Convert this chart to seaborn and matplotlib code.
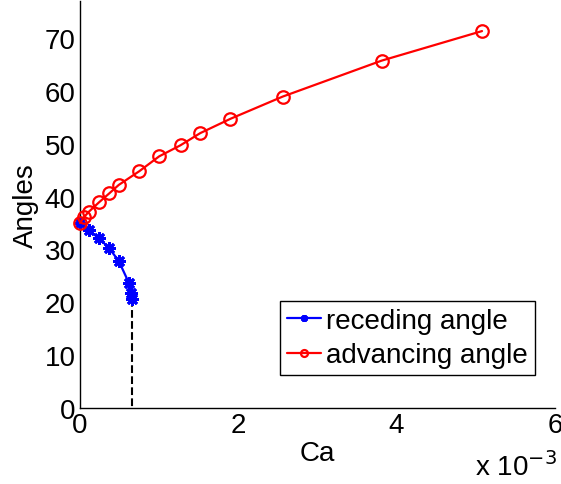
import matplotlib
matplotlib.use("Agg")
import matplotlib.pyplot as plt
import seaborn as sns
import pandas as pd
from matplotlib.ticker import FuncFormatter

# data (Ca in absolute units)
rec_ca = [0.0, 0.11e-3, 0.24e-3, 0.37e-3, 0.49e-3, 0.62e-3, 0.645e-3, 0.66e-3]
rec_angle = [35.0, 33.6, 32.1, 30.2, 27.8, 23.6, 21.7, 20.6]

adv_ca = [0.0, 0.05e-3, 0.11e-3, 0.24e-3, 0.37e-3, 0.49e-3, 0.75e-3, 1.0e-3,
          1.27e-3, 1.52e-3, 1.9e-3, 2.56e-3, 3.81e-3, 5.08e-3]
adv_angle = [35.0, 36.1, 37.1, 38.9, 40.6, 42.2, 44.8, 47.6,
             49.7, 52.0, 54.7, 58.9, 65.7, 71.3]

x_ticks = [0, 2e-3, 4e-3, 6e-3]
y_ticks = [0, 10, 20, 30, 40, 50, 60, 70]

FS = 20

sns.set_style("white")
plt.rcParams['font.family'] = ['Liberation Sans', 'DejaVu Sans']
plt.rcParams.update({
    "font.size": FS,
    "text.color": "black",
    "axes.labelcolor": "black",
    "xtick.direction": "in",
    "ytick.direction": "in",
    "xtick.major.size": 5,
    "ytick.major.size": 5,
})

rec = pd.DataFrame({"Ca": rec_ca, "Angle": rec_angle})
adv = pd.DataFrame({"Ca": adv_ca, "Angle": adv_angle})

fig = plt.figure(figsize=(5.61, 4.85), dpi=100)
ax = fig.add_axes([0.1426, 0.1567, 0.8464, 0.8393])

sns.lineplot(data=rec, x="Ca", y="Angle", sort=False, color="blue",
             marker=(8, 2, 0), markersize=9, markeredgewidth=2,
             markeredgecolor="blue", linewidth=1.6, label="receding angle",
             clip_on=False, zorder=3, ax=ax)
sns.lineplot(data=adv, x="Ca", y="Angle", sort=False, color="red",
             marker="o", markersize=9, markerfacecolor="none",
             markeredgewidth=1.6, markeredgecolor="red", linewidth=1.6,
             label="advancing angle", clip_on=False, zorder=4, ax=ax)
# dashed drop from the last receding point to zero
ax.plot([rec_ca[-1], rec_ca[-1]], [rec_angle[-1], 0], color="black",
        linestyle="--", linewidth=1.5, zorder=1)

ax.set_xlim(0, 6e-3)
ax.set_ylim(0, 77)
ax.set_xticks(x_ticks)
ax.set_yticks(y_ticks)
ax.xaxis.set_major_formatter(FuncFormatter(lambda v, p: f"{v * 1e3:g}"))
ax.tick_params(axis="both", labelsize=FS, colors="black", width=1, pad=3)

for s in ["top", "right"]:
    ax.spines[s].set_visible(False)
for s in ["left", "bottom"]:
    ax.spines[s].set_color("black")
    ax.spines[s].set_linewidth(1)

ax.set_xlabel("Ca", fontsize=FS, labelpad=1)
ax.set_ylabel("Angles", fontsize=FS, labelpad=4)
fig.text(0.993, 0.006, r"x 10$^{-3}$", ha="right", va="bottom", fontsize=FS)

leg = ax.legend(loc="lower right", bbox_to_anchor=(0.958, 0.08), fontsize=FS,
                frameon=True, fancybox=False, edgecolor="black", framealpha=1,
                handlelength=1.2, handletextpad=0.2, borderpad=0.25,
                labelspacing=0.3, borderaxespad=0)
leg.get_frame().set_linewidth(1)
for h in leg.get_lines():
    h.set_markersize(5)

plt.savefig("out.png", dpi=100)
